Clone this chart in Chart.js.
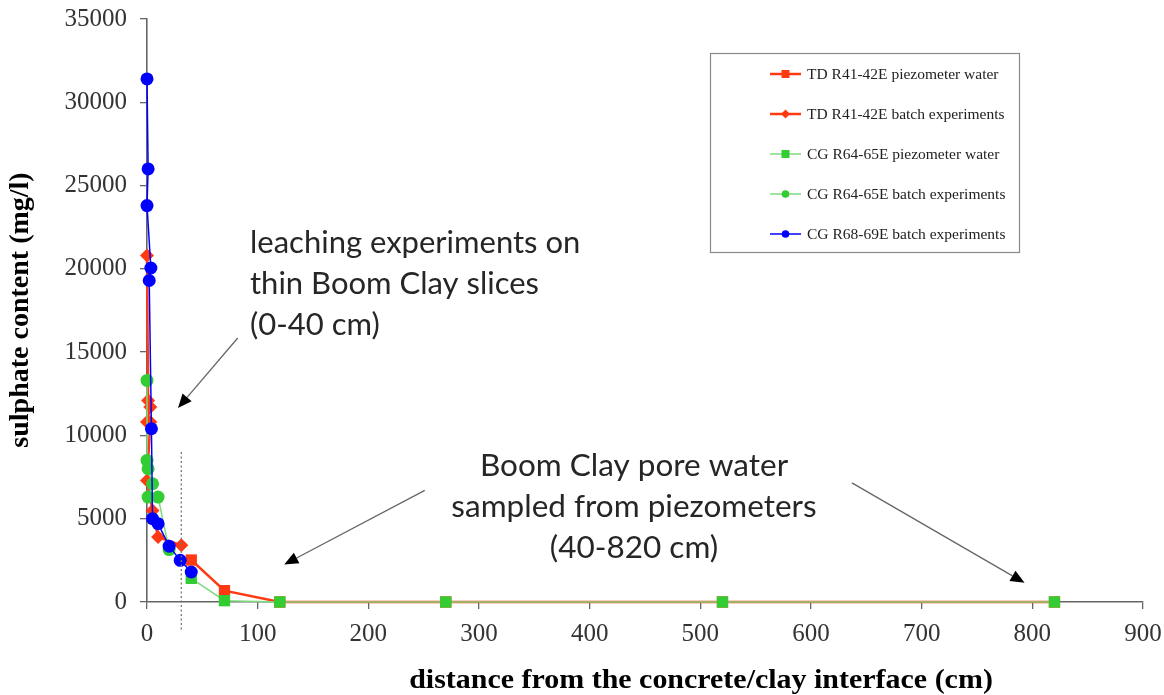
<!DOCTYPE html>
<html>
<head>
<meta charset="utf-8">
<title>Sulphate content vs distance from the concrete/clay interface</title>
<script src="https://cdn.jsdelivr.net/npm/chart.js@4/dist/chart.umd.min.js"></script>
<style>
  html, body { margin: 0; padding: 0; background: #ffffff; }
  #wrap { width: 1164px; height: 695px; position: relative; }
</style>
</head>
<body>
<div id="wrap"><canvas id="chart" width="1164" height="695"></canvas></div>
<script>
// ---- data (distance in cm, sulphate in mg/l) ----
const tdPiezoX = [40, 70, 120, 270, 520, 820];
const tdPiezoY = [2520, 680, 0, 0, 0, 0];

const tdBatchX = [0, 1, 3, 0, 3, 0, 5, 10, 31];
const tdBatchY = [20800, 12100, 11700, 10800, 10800, 7300, 5500, 3900, 3400];

const cgPiezoX = [40, 70, 120, 270, 520, 820];
const cgPiezoY = [1420, 80, 0, 0, 0, 0];

const cgBatchX = [0, 0, 1, 5, 1, 10, 20];
const cgBatchY = [13300, 8500, 8000, 7100, 6300, 6300, 3150];

const cg68BatchX = [0, 1, 0, 3.5, 2, 4, 5, 10, 20, 30, 40];
const cg68BatchY = [31400, 26000, 23800, 20050, 19300, 10400, 5000, 4700, 3350, 2500, 1800];

const seriesNames = [
  'TD R41-42E piezometer water',
  'TD R41-42E batch experiments',
  'CG R64-65E piezometer water',
  'CG R64-65E batch experiments',
  'CG R68-69E batch experiments'
];

const xTicks = [0, 100, 200, 300, 400, 500, 600, 700, 800, 900];
const yTicks = [0, 5000, 10000, 15000, 20000, 25000, 30000, 35000];

const xTitle = 'distance from the concrete/clay interface (cm)';
const yTitle = 'sulphate content (mg/l)';

// annotation text blocks and arrows, anchored in data units
const noteLeaching = ['leaching experiments on', 'thin Boom Clay slices', '(0-40 cm)'];
const notePiezo = ['Boom Clay pore water', 'sampled from piezometers', '(40-820 cm)'];
const arrows = [
  { from: [82, 15850], to: [28, 11650] },
  { from: [251, 6700], to: [124, 2250] },
  { from: [637, 7150], to: [793, 1150] }
];
const boundaryX = 31;           // dotted separation line (cm)
const boundaryY = [9000, -1800];

const pts = (xs, ys) => xs.map((x, i) => ({ x: x, y: ys[i] }));

const RED = '#ff3a12';
const GREEN = '#33cc33';
const GREEN_LINE = '#7edb7e';
const BLUE = '#0000ff';

const datasets = [
  { label: seriesNames[0], data: pts(tdPiezoX, tdPiezoY), borderColor: RED, backgroundColor: RED,
    borderWidth: 2.5, pointStyle: 'rect', pointRadius: 8, order: 4, legendStyle: 'rect' },
  { label: seriesNames[1], data: pts(tdBatchX, tdBatchY), borderColor: RED, backgroundColor: RED,
    borderWidth: 2.5, pointStyle: 'rectRot', pointRadius: 7, order: 3, legendStyle: 'rectRot' },
  { label: seriesNames[2], data: pts(cgPiezoX, cgPiezoY), borderColor: GREEN_LINE, backgroundColor: GREEN,
    pointBorderColor: GREEN, borderWidth: 1.5, pointStyle: 'rect', pointRadius: 8, order: 2, legendStyle: 'rect' },
  { label: seriesNames[3], data: pts(cgBatchX, cgBatchY), borderColor: GREEN_LINE, backgroundColor: GREEN,
    pointBorderColor: GREEN, borderWidth: 1.5, pointStyle: 'circle', pointRadius: 6.5, order: 1, legendStyle: 'circle' },
  { label: seriesNames[4], data: pts(cg68BatchX, cg68BatchY), borderColor: BLUE, backgroundColor: BLUE,
    borderWidth: 1.5, pointStyle: 'circle', pointRadius: 6.5, order: 0, legendStyle: 'circle' }
];
datasets.forEach(d => {
  d.showLine = true; d.tension = 0; d.pointBorderWidth = 0;
  d.pointHoverRadius = d.pointRadius; d.clip = false;
});

function drawMarker(ctx, style, x, y, r, color) {
  ctx.fillStyle = color;
  ctx.beginPath();
  if (style === 'rect') {
    ctx.rect(x - r, y - r, 2 * r, 2 * r);
  } else if (style === 'rectRot') {
    ctx.moveTo(x - r, y); ctx.lineTo(x, y - r); ctx.lineTo(x + r, y); ctx.lineTo(x, y + r); ctx.closePath();
  } else {
    ctx.arc(x, y, r, 0, Math.PI * 2);
  }
  ctx.fill();
}

const SERIF = '"Liberation Serif", "Times New Roman", serif';
const SANS = 'Lato, "Open Sans", sans-serif';

const overlay = {
  id: 'overlay',
  afterDatasetsDraw(chart) {
    const ctx = chart.ctx;
    const xs = chart.scales.x, ys = chart.scales.y;
    const X = v => xs.getPixelForValue(v), Y = v => ys.getPixelForValue(v);
    ctx.save();

    // dotted boundary at the end of the leaching zone
    ctx.strokeStyle = '#777';
    ctx.lineWidth = 1.3;
    ctx.setLineDash([2, 2.5]);
    ctx.beginPath();
    ctx.moveTo(X(boundaryX), Y(boundaryY[0]));
    ctx.lineTo(X(boundaryX), Y(boundaryY[1]));
    ctx.stroke();
    ctx.setLineDash([]);

    // arrows
    arrows.forEach(a => {
      const x1 = X(a.from[0]), y1 = Y(a.from[1]), x2 = X(a.to[0]), y2 = Y(a.to[1]);
      const ang = Math.atan2(y2 - y1, x2 - x1);
      const len = 14, half = 6;
      const bx = x2 - len * Math.cos(ang), by = y2 - len * Math.sin(ang);
      ctx.strokeStyle = '#666';
      ctx.lineWidth = 1.3;
      ctx.beginPath(); ctx.moveTo(x1, y1); ctx.lineTo(bx, by); ctx.stroke();
      ctx.fillStyle = '#000';
      ctx.beginPath();
      ctx.moveTo(x2, y2);
      ctx.lineTo(bx + half * Math.sin(ang), by - half * Math.cos(ang));
      ctx.lineTo(bx - half * Math.sin(ang), by + half * Math.cos(ang));
      ctx.closePath(); ctx.fill();
    });

    // annotation texts
    ctx.fillStyle = '#262626';
    ctx.font = '31px ' + SANS;
    ctx.textBaseline = 'middle';
    ctx.textAlign = 'left';
    noteLeaching.forEach((t, i) => ctx.fillText(t, 250, 243 + i * 41));
    ctx.textAlign = 'center';
    ctx.font = '31.5px ' + SANS;
    notePiezo.forEach((t, i) => ctx.fillText(t, 634, 466 + i * 41));

    // legend box
    ctx.fillStyle = '#ffffff';
    ctx.fillRect(711, 54, 308, 198);
    ctx.strokeStyle = '#8a8a8a';
    ctx.lineWidth = 1.2;
    ctx.strokeRect(710.5, 53.5, 309, 199);
    ctx.font = '15.5px ' + SERIF;
    ctx.textAlign = 'left';
    ctx.textBaseline = 'middle';
    chart.data.datasets.forEach((d, i) => {
      const y = 74 + i * 40;
      ctx.strokeStyle = d.borderColor;
      ctx.lineWidth = d.borderWidth;
      ctx.beginPath(); ctx.moveTo(770, y); ctx.lineTo(801, y); ctx.stroke();
      const mr = d.legendStyle === 'rect' ? 4 : (d.legendStyle === 'rectRot' ? 4.5 : 3.8);
      drawMarker(ctx, d.legendStyle, 785.5, y, mr, d.backgroundColor);
      ctx.fillStyle = '#222';
      ctx.fillText(d.label, 807, y + 1);
    });

    // axis titles
    ctx.fillStyle = '#000';
    ctx.font = 'bold 28px ' + SERIF;
    ctx.textAlign = 'center';
    ctx.textBaseline = 'middle';
    ctx.save();
    ctx.translate(701, 681);
    ctx.scale(1.07, 1);
    ctx.fillText(xTitle, 0, 0);
    ctx.restore();
    ctx.save();
    ctx.translate(21, 310);
    ctx.rotate(-Math.PI / 2);
    ctx.fillText(yTitle, 0, 0);
    ctx.restore();

    ctx.restore();
  }
};

const tickFont = { family: SERIF, size: 25 };

new Chart(document.getElementById('chart'), {
  type: 'scatter',
  data: { datasets: datasets },
  options: {
    responsive: false,
    animation: false,
    layout: { padding: { top: 19, right: 21, left: 0, bottom: 0 } },
    plugins: { legend: { display: false }, tooltip: { enabled: false } },
    scales: {
      x: {
        type: 'linear', min: 0, max: 900,
        afterBuildTicks: s => { s.ticks = xTicks.map(v => ({ value: v })); },
        afterFit: s => { s.height = 93; s.paddingLeft = 0; s.paddingRight = 0; },
        grid: { drawOnChartArea: false, drawTicks: true, tickLength: 7, color: '#666', lineWidth: 1.3 },
        border: { color: '#666', width: 1.6 },
        ticks: { font: tickFont, color: '#333', padding: 10, maxRotation: 0, callback: v => String(v) }
      },
      y: {
        type: 'linear', min: 0, max: 35000,
        afterBuildTicks: s => { s.ticks = yTicks.map(v => ({ value: v })); },
        afterFit: s => { s.width = 147; s.paddingTop = 0; s.paddingBottom = 0; },
        grid: { drawOnChartArea: false, drawTicks: true, tickLength: 7, color: '#666', lineWidth: 1.3 },
        border: { color: '#666', width: 1.6 },
        ticks: { font: tickFont, color: '#333', padding: 13, callback: v => String(v) }
      }
    }
  },
  plugins: [overlay]
});
</script>
</body>
</html>
